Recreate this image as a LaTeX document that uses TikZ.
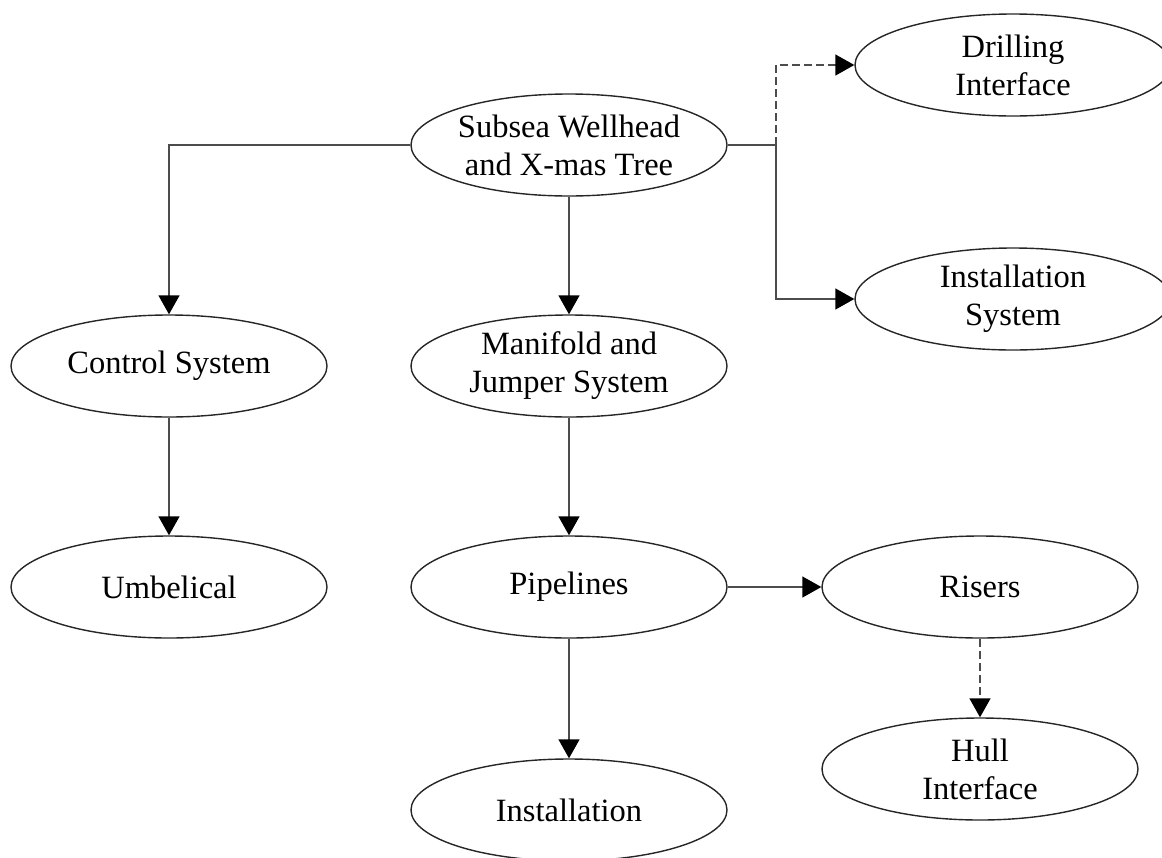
\documentclass[tikz,border=0pt]{standalone}
\usepackage{fontspec}
\setmainfont{Liberation Serif}
\usetikzlibrary{shapes.geometric,arrows.meta}
\begin{document}
\begin{tikzpicture}[x=1pt,y=-1pt,
  box/.style={ellipse,draw=black!85,line width=1.4pt,minimum width=316pt,minimum height=102pt,inner sep=0pt,align=center,font=\fontsize{32.5}{38}\selectfont},
  conn/.style={draw=black!70,line width=1.5pt,-{Triangle[length=19pt,width=21pt,color=black]}},
  dconn/.style={conn,dash pattern=on 8pt off 4pt}]
\useasboundingbox (0,0) rectangle (1162,857);
\node[box] (sub) at (569,145) {Subsea Wellhead\\and X-mas Tree};
\node[box] (dri) at (1013,65) {Drilling\\Interface};
\node[box] (ins) at (1013,299) {Installation\\System};
\node[box] (con) at (169,366) {Control System};
\node[box] (man) at (569,366) {Manifold and\\Jumper System};
\node[box] (umb) at (169,587) {Umbelical};
\node[box] (pip) at (569,587) {Pipelines};
\node[box] (ris) at (980,587) {Risers};
\node[box] (hul) at (980,769) {Hull\\Interface};
\node[box] (ist) at (569,810) {Installation};
\coordinate (j) at (776,145);
\draw[conn] (sub.west) -| (con.north);
\draw[conn] (sub.south) -- (man.north);
\draw[draw=black!70,line width=1.5pt] (sub.east) -- (j);
\draw[conn] (j) |- (ins.west);
\draw[dconn] (j) |- (dri.west);
\draw[conn] (con.south) -- (umb.north);
\draw[conn] (man.south) -- (pip.north);
\draw[conn] (pip.south) -- (ist.north);
\draw[conn] (pip.east) -- (ris.west);
\draw[dconn] (ris.south) -- (hul.north);
\end{tikzpicture}
\end{document}
